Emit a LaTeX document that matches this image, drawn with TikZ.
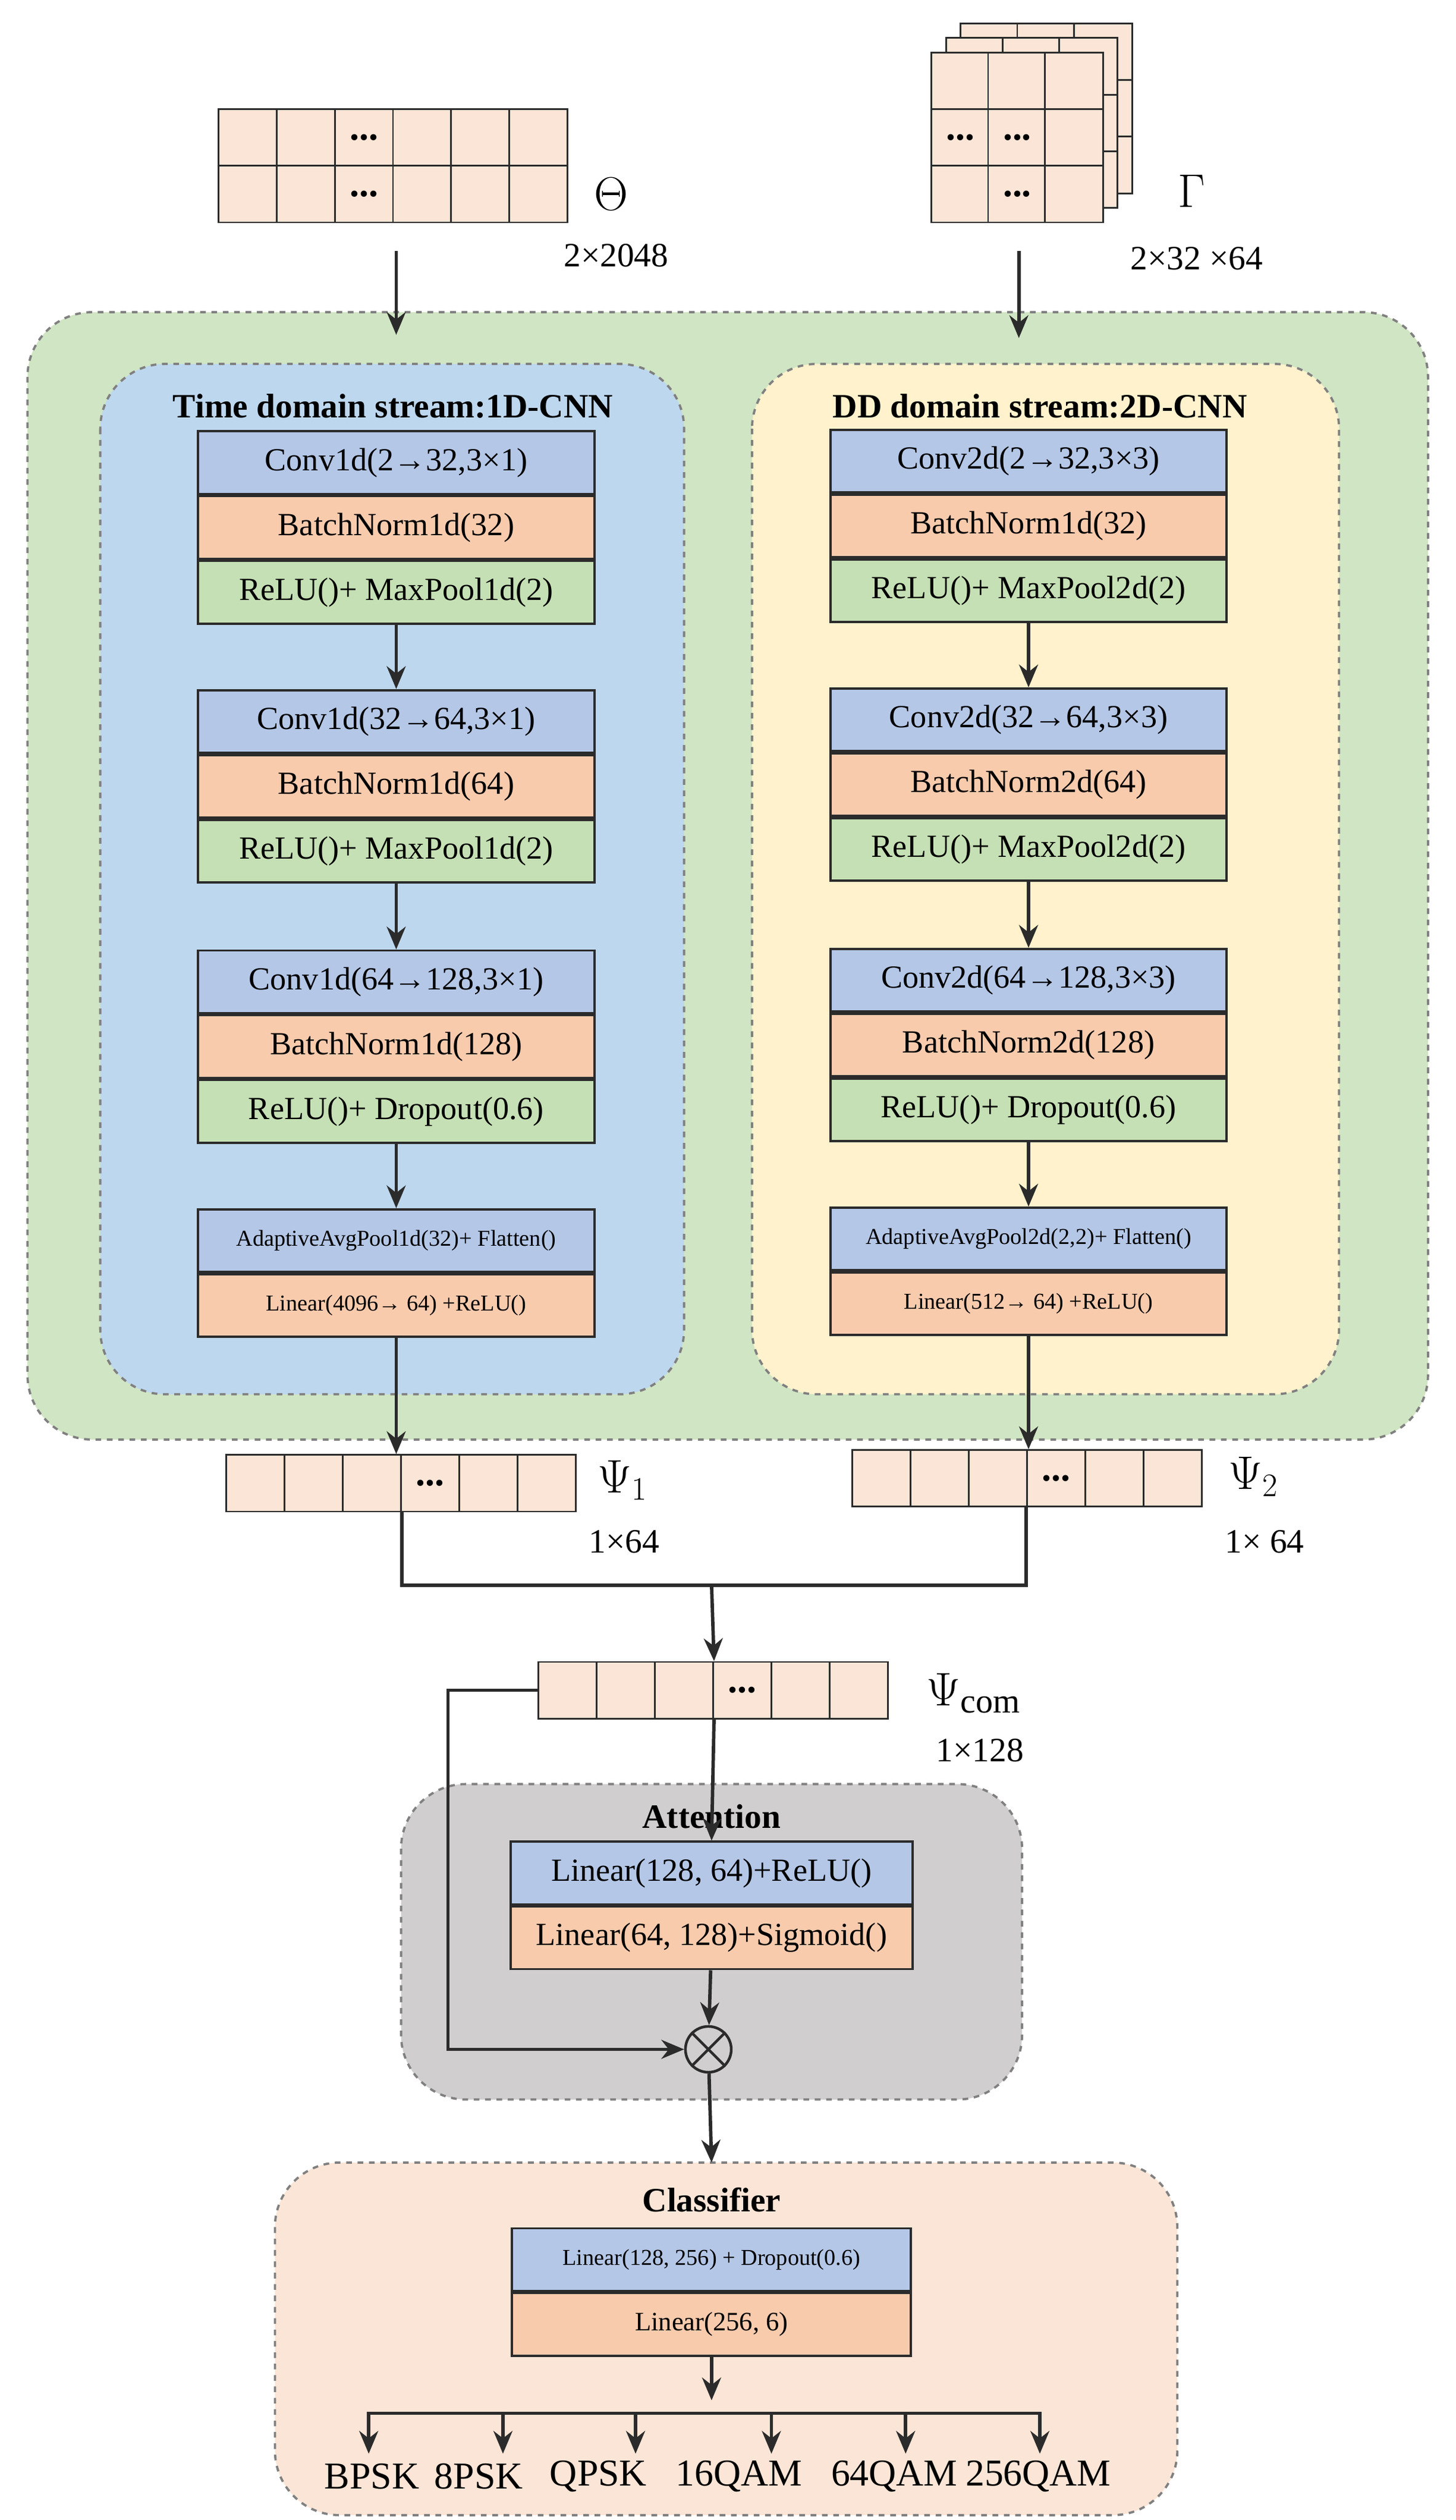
\documentclass[tikz,border=0pt]{standalone}
\usepackage{fontspec}
\setmainfont{Liberation Serif}
\usetikzlibrary{arrows.meta,positioning}
\definecolor{cblue}{HTML}{B4C7E7}
\definecolor{corange}{HTML}{F8CBAD}
\definecolor{cgreen}{HTML}{C5E0B4}
\definecolor{cpeach}{HTML}{FBE5D6}
\definecolor{bggreen}{HTML}{D0E5C3}
\definecolor{bgblue}{HTML}{BDD7EE}
\definecolor{bgyellow}{HTML}{FFF2CC}
\definecolor{bggray}{HTML}{D0CECE}
\definecolor{dark}{HTML}{2B2B2B}
\tikzset{
  blk/.style={draw=dark, line width=1.2pt, minimum width=7.35cm, minimum height=1.16cm, inner sep=0pt, font=\fontsize{17}{20}\selectfont},
  small/.style={blk, font=\fontsize{12}{14}\selectfont},
  cell/.style={draw=dark, line width=0.9pt, fill=cpeach, minimum width=1.08cm, minimum height=1.05cm, inner sep=0pt, font=\fontsize{20}{20}\selectfont\bfseries},
  region/.style={draw=gray, dashed, line width=1.2pt, rounded corners=1.2cm},
  arr/.style={-{Stealth[length=12pt,width=10pt]}, line width=1.8pt, draw=dark},
  ln/.style={line width=1.8pt, draw=dark},
  ttl/.style={font=\fontsize{18}{20}\selectfont\bfseries},
  lab/.style={font=\fontsize{18}{20}\selectfont}
}
\begin{document}
\begin{tikzpicture}[x=0.03cm, y=-0.03cm]
\useasboundingbox (0,0) rectangle (900,1558);
% regions
\draw[region, fill=bggreen] (17,193) rectangle (883,890);
\draw[region, fill=bgblue] (62,225) rectangle (423,862);
\draw[region, fill=bgyellow] (465,225) rectangle (828,862);
\draw[region, fill=bggray] (248,1103) rectangle (632,1298);
\draw[region, fill=cpeach] (170,1337) rectangle (728,1555);
\node[ttl] at (243,251) {Time domain stream:1D-CNN};
\node[ttl] at (643,251) {DD domain stream:2D-CNN};
\node[ttl] at (440,1123) {Attention};
\node[ttl] at (440,1360) {Classifier};
% input Theta
\foreach \r in {0,1}
  \foreach \c in {0,...,5}
    \node[cell] (th\r\c) at (153+\c*36, 85+\r*35) {\ifnum\c=2 ...\fi};
\node[font=\fontsize{28}{28}\selectfont] (theta) at (378,120) {$\Theta$};
\node[lab] at (381,158) {2×2048};
% input Gamma
\foreach \d in {2,1} {
  \foreach \r in {0,1,2}
    \foreach \c in {0,1,2}
      \node[cell] at (594+\d*9+\c*35, 50-\d*9+\r*35) {};
}
\foreach \r in {0,1,2}
  \foreach \c in {0,1,2}
    \node[cell] (ga\r\c) at (594+\c*35, 50+\r*35) {\ifnum\r=1 \ifnum\c<2 ...\fi\fi\ifnum\r=2 \ifnum\c=1 ...\fi\fi};
\node[font=\fontsize{28}{28}\selectfont] (gamma) at (737,118) {$\Gamma$};
\node[lab] at (740,160) {2×32 ×64};
\coordinate (inA) at (245,155);
\coordinate (inB) at (630,155);
% left stream
\node[blk, fill=cblue] (l1) at (245,286) {Conv1d(2→32,3×1)};
\node[blk, fill=corange, below=0pt of l1] (l2) {BatchNorm1d(32)};
\node[blk, fill=cgreen, below=0pt of l2] (l3) {ReLU()+ MaxPool1d(2)};
\node[blk, fill=cblue] (l4) at (245,446) {Conv1d(32→64,3×1)};
\node[blk, fill=corange, below=0pt of l4] (l5) {BatchNorm1d(64)};
\node[blk, fill=cgreen, below=0pt of l5] (l6) {ReLU()+ MaxPool1d(2)};
\node[blk, fill=cblue] (l7) at (245,607) {Conv1d(64→128,3×1)};
\node[blk, fill=corange, below=0pt of l7] (l8) {BatchNorm1d(128)};
\node[blk, fill=cgreen, below=0pt of l8] (l9) {ReLU()+ Dropout(0.6)};
\node[small, fill=cblue] (l10) at (245,767) {AdaptiveAvgPool1d(32)+ Flatten()};
\node[small, fill=corange, below=0pt of l10] (l11) {Linear(4096→ 64) +ReLU()};
% right stream
\node[blk, fill=cblue] (r1) at (636,285) {Conv2d(2→32,3×3)};
\node[blk, fill=corange, below=0pt of r1] (r2) {BatchNorm1d(32)};
\node[blk, fill=cgreen, below=0pt of r2] (r3) {ReLU()+ MaxPool2d(2)};
\node[blk, fill=cblue] (r4) at (636,445) {Conv2d(32→64,3×3)};
\node[blk, fill=corange, below=0pt of r4] (r5) {BatchNorm2d(64)};
\node[blk, fill=cgreen, below=0pt of r5] (r6) {ReLU()+ MaxPool2d(2)};
\node[blk, fill=cblue] (r7) at (636,606) {Conv2d(64→128,3×3)};
\node[blk, fill=corange, below=0pt of r7] (r8) {BatchNorm2d(128)};
\node[blk, fill=cgreen, below=0pt of r8] (r9) {ReLU()+ Dropout(0.6)};
\node[small, fill=cblue] (r10) at (636,766) {AdaptiveAvgPool2d(2,2)+ Flatten()};
\node[small, fill=corange, below=0pt of r10] (r11) {Linear(512→ 64) +ReLU()};
\draw[arr] (inA) -- (245,207);
\draw[arr] (inB) -- (630,209);
\draw[arr] (l3) -- (l4);
\draw[arr] (l6) -- (l7);
\draw[arr] (l9) -- (l10);
\draw[arr] (r3) -- (r4);
\draw[arr] (r6) -- (r7);
\draw[arr] (r9) -- (r10);
% features
\foreach \c in {0,...,5} {
  \node[cell] (pa\c) at (158+\c*36, 917) {\ifnum\c=3 ...\fi};
  \node[cell] (pb\c) at (545+\c*36, 914) {\ifnum\c=3 ...\fi};
  \node[cell] (pc\c) at (351+\c*36, 1045) {\ifnum\c=3 ...\fi};
}
\draw[arr] (l11.south) -- (l11.south |- pa0.north);
\draw[arr] (r11.south) -- (r11.south |- pb0.north);
\node[font=\fontsize{26}{26}\selectfont] at (385,915) {$\Psi_1$};
\node[lab] at (386,953) {1×64};
\node[font=\fontsize{26}{26}\selectfont] at (775,913) {$\Psi_2$};
\node[lab] at (782,953) {1× 64};
\node[font=\fontsize{26}{26}\selectfont] at (602,1047) {$\Psi_{\mathrm{com}}$};
\node[lab] at (606,1082) {1×128};
\coordinate (jn) at (440,980);
\draw[ln] (pa2.south east) -- (pa2.south east |- jn) -- (pb3.south west |- jn) -- (pb3.south west);
\draw[arr] (jn) -- (pc2.north east);
% attention
\node[blk, minimum width=7.45cm, fill=cblue] (a1) at (440,1158) {Linear(128, 64)+ReLU()};
\node[blk, minimum width=7.45cm, fill=corange, below=0pt of a1] (a2) {Linear(64, 128)+Sigmoid()};
\node[draw=dark, circle, line width=1.4pt, minimum size=0.85cm, inner sep=0pt, font=\fontsize{24}{24}\selectfont] (mul) at (438,1267) {};
\draw[line width=1.4pt, dark] (mul.north west) -- (mul.south east) (mul.north east) -- (mul.south west);
\draw[arr] (pc2.south east) -- (a1.north);
\draw[arr] (a2) -- (mul);
\coordinate (sk) at (277,1045);
\draw[arr] (pc0.west) -- (sk) |- (mul.west);
% classifier
\node[small, minimum width=7.4cm, fill=cblue] (c1) at (440,1397) {Linear(128, 256) + Dropout(0.6)};
\node[blk, minimum width=7.4cm, font=\fontsize{14}{16}\selectfont, fill=corange, below=0pt of c1] (c2) {Linear(256, 6)};
\draw[arr] (mul) -- (440,1337);
\coordinate (bus) at (440,1492);
\draw[arr] (c2) -- (440,1484);
\draw[ln] (228,1492) -- (643,1492);
\foreach \x/\t/\lx [count=\k] in {228/BPSK/230, 311/8PSK/296, 393/QPSK/370, 477/16QAM/457, 560/64QAM/553, 643/256QAM/642} {
  \node[lab, font=\fontsize{20}{22}\selectfont] (m\k) at (\lx,1531) {\t};
  \draw[arr] (\x,1491) -- (\x,1517);
}
\end{tikzpicture}
\end{document}
